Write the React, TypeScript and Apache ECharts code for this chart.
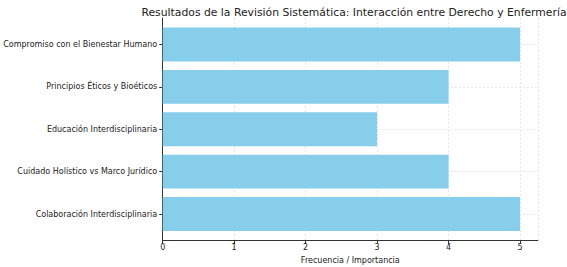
import React, { useEffect, useRef } from "react";
import * as echarts from "echarts";

const categories = [
  "Colaboración Interdisciplinaria",
  "Cuidado Holístico vs Marco Jurídico",
  "Educación Interdisciplinaria",
  "Principios Éticos y Bioéticos",
  "Compromiso con el Bienestar Humano",
];
const values = [5, 4, 3, 4, 5];
const title = "Resultados de la Revisión Sistemática: Interacción entre Derecho y Enfermería";
const xLabel = "Frecuencia / Importancia";

const FONT = "DejaVu Sans";
const TEXT = "#222222";

export default function App() {
  const ref = useRef<HTMLDivElement>(null);
  useEffect(() => {
    document.body.style.margin = "0";
    const chart = echarts.init(ref.current!, null, { renderer: "svg" });
    const gridStyle = { color: "#e0e0e0", type: [2, 2] as any, width: 0.8 };
    chart.setOption({
      animation: false,
      title: {
        text: title,
        left: 349,
        textAlign: "center",
        top: 2,
        textStyle: { fontFamily: FONT, fontSize: 10.8, fontWeight: "normal", color: TEXT },
      },
      grid: [
        { left: 162.7, right: 29.1, top: 23.3, bottom: 31.8, outerBoundsMode: "none", containLabel: false } as any,
        { left: 162.7, right: 29.1, top: 18, bottom: 26.5, outerBoundsMode: "none", containLabel: false } as any,
      ],
      xAxis: [
        {
          gridIndex: 0,
          type: "value",
          min: 0,
          max: 5.25,
          show: false,
        },
        {
          gridIndex: 1,
          type: "value",
          min: 0,
          max: 5.25,
          interval: 1,
          name: xLabel,
          nameLocation: "middle",
          nameGap: 15,
          nameTextStyle: { fontFamily: FONT, fontSize: 8, color: TEXT },
          axisLine: { show: true, lineStyle: { color: "#333", width: 1 } },
          axisTick: { show: true, length: 3.5, lineStyle: { color: "#333" } },
          axisLabel: {
            fontFamily: FONT,
            fontSize: 8,
            color: TEXT,
            margin: 3,
            showMaxLabel: false,
            formatter: (v: number) => (Number.isInteger(v) ? String(v) : ""),
          },
          splitLine: { show: true, lineStyle: gridStyle },
        },
      ],
      yAxis: [
        {
          gridIndex: 0,
          type: "category",
          data: categories,
          axisLine: { show: false },
          axisTick: { show: true, alignWithLabel: true, length: 3.5, lineStyle: { color: "#333" } },
          axisLabel: { fontFamily: FONT, fontSize: 8, color: TEXT, margin: 5.5 },
          splitLine: { show: true, alignWithLabel: true, lineStyle: gridStyle } as any,
        },
        {
          gridIndex: 1,
          type: "value",
          min: 0,
          max: 1,
          axisLine: { show: true, onZero: false, lineStyle: { color: "#333", width: 1 } },
          axisTick: { show: false },
          axisLabel: { show: false },
          splitLine: { show: false },
        },
      ],
      series: [
        {
          type: "bar",
          xAxisIndex: 0,
          yAxisIndex: 0,
          data: values,
          barCategoryGap: "20%",
          itemStyle: { color: "#87CEEB" },
          z: 3,
        },
      ],
    });
    return () => chart.dispose();
  }, []);
  return <div ref={ref} style={{ width: 567, height: 267 }} />;
}
